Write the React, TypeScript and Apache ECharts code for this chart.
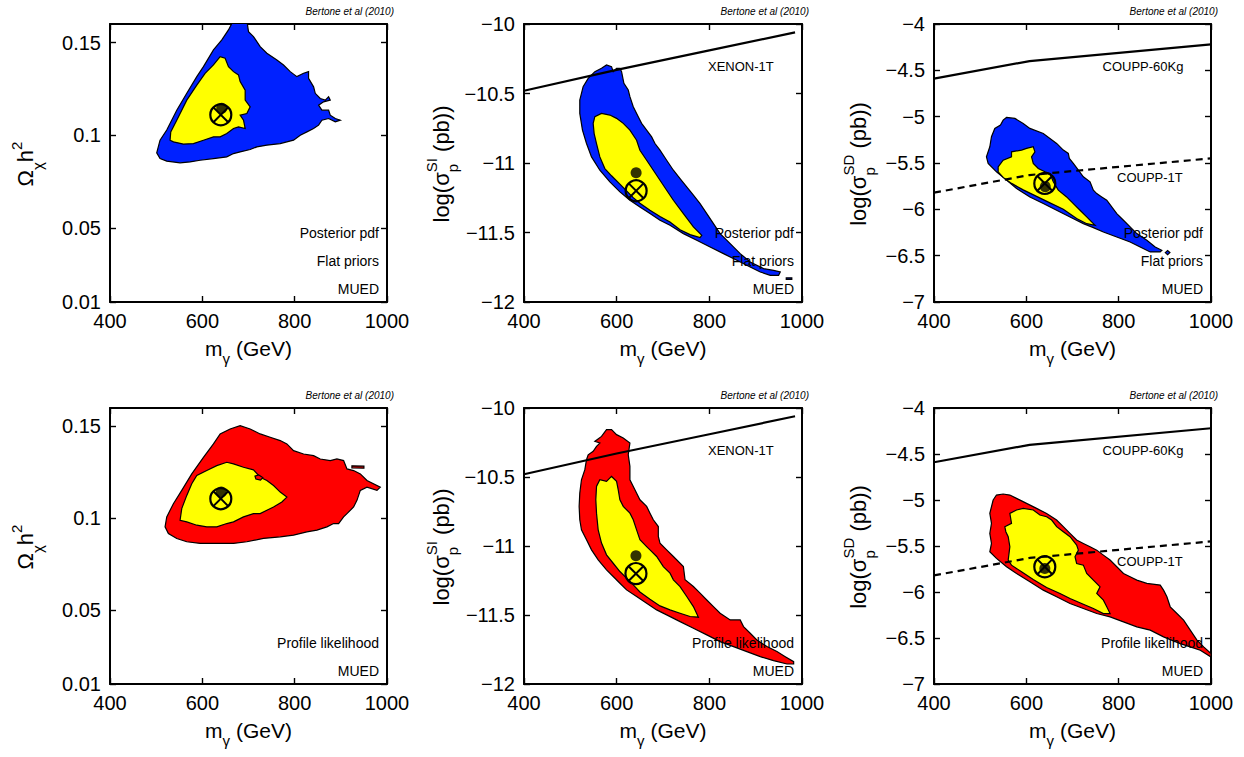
import React, { useEffect, useRef } from "react";
import * as echarts from "echarts";

type Pt = [number, number];

// ---------------- data ----------------
const massRange = [400, 1000];
const relicTicks = [0.01, 0.05, 0.1, 0.15];

// Top-left: relic density, posterior pdf (blue = 95%, yellow = 68%)
const relicPdfOuter: Pt[] = [
  [501.2, 0.0905], [508.4, 0.0973], [522.9, 0.1028], [544.6, 0.1135], [566.3, 0.1226], [588.0, 0.1316],
  [602.4, 0.137], [624.1, 0.146], [642.2, 0.1514], [656.6, 0.1568], [667.5, 0.162], [696.4, 0.162],
  [700.0, 0.1559], [710.8, 0.1532], [725.3, 0.1478], [739.8, 0.1442], [761.5, 0.1406], [775.9, 0.1379],
  [790.4, 0.1343], [804.8, 0.1316], [819.3, 0.1334], [830.1, 0.1343], [830.1, 0.1307], [841.0, 0.1261],
  [844.6, 0.1226], [855.4, 0.1198], [866.3, 0.1189], [873.5, 0.1207], [877.1, 0.1189], [862.7, 0.118],
  [851.8, 0.1162], [859.0, 0.1135], [873.5, 0.1135], [877.1, 0.1108], [888.0, 0.109], [898.8, 0.1081],
  [888.0, 0.1072], [873.5, 0.109], [859.0, 0.1081], [851.8, 0.1054], [841.0, 0.1036], [826.5, 0.1018],
  [812.1, 0.1], [797.6, 0.0973], [783.1, 0.0964], [768.7, 0.0955], [739.8, 0.0946], [718.1, 0.0937],
  [703.6, 0.0923], [681.9, 0.091], [667.5, 0.0901], [653.0, 0.0883], [624.1, 0.0874], [595.2, 0.0865],
  [573.5, 0.0856], [551.8, 0.0851], [522.9, 0.086], [508.4, 0.0874],
];
const relicPdfInner: Pt[] = [
  [530.1, 0.0973], [531.6, 0.1018], [544.6, 0.1081], [566.3, 0.1189], [588.0, 0.127], [606.0, 0.1334],
  [624.1, 0.1379], [638.6, 0.1424], [649.4, 0.1415], [656.6, 0.137], [667.5, 0.1343], [678.3, 0.1325],
  [681.9, 0.1289], [692.8, 0.1243], [692.8, 0.1189], [703.6, 0.1153], [696.4, 0.1117], [681.9, 0.1108],
  [689.2, 0.1081], [692.8, 0.1036], [678.3, 0.1045], [667.5, 0.1036], [653.0, 0.1009], [638.6, 0.0991],
  [624.1, 0.0991], [602.4, 0.0973], [580.7, 0.0955], [559.0, 0.0952], [537.4, 0.0964],
];

// Top-middle: spin-independent cross section, posterior pdf
const siPdfOuter: Pt[] = [
  [567.3, -10.319], [578.1, -10.295], [588.9, -10.307], [592.5, -10.343], [599.8, -10.319], [607.0, -10.319],
  [610.6, -10.343], [615.6, -10.427], [625.0, -10.475], [628.6, -10.523], [635.8, -10.595], [646.6, -10.667],
  [653.8, -10.715], [664.7, -10.764], [675.5, -10.812], [682.7, -10.86], [693.5, -10.908], [707.9, -10.98],
  [722.4, -11.052], [736.8, -11.112], [751.2, -11.172], [765.6, -11.232], [780.0, -11.292], [794.5, -11.364],
  [808.9, -11.436], [823.3, -11.508], [845.0, -11.58], [866.6, -11.652], [888.2, -11.712], [917.1, -11.76],
  [938.7, -11.772], [953.1, -11.784], [949.5, -11.808], [931.5, -11.808], [909.9, -11.784], [888.2, -11.748],
  [859.4, -11.7], [830.5, -11.652], [801.7, -11.604], [772.8, -11.556], [744.0, -11.508], [715.1, -11.448],
  [693.5, -11.412], [671.9, -11.364], [650.2, -11.316], [628.6, -11.268], [607.0, -11.208], [585.3, -11.136],
  [563.7, -11.052], [545.7, -10.956], [534.9, -10.86], [526.2, -10.764], [520.4, -10.643], [520.4, -10.547],
  [527.6, -10.451], [538.5, -10.391], [552.9, -10.343],
];
const siPdfInner: Pt[] = [
  [549.3, -10.715], [552.9, -10.667], [567.3, -10.643], [585.3, -10.655], [599.8, -10.679], [614.2, -10.715],
  [628.6, -10.764], [643.0, -10.836], [650.2, -10.908], [664.7, -10.98], [679.1, -11.052], [693.5, -11.124],
  [707.9, -11.196], [722.4, -11.268], [744.0, -11.364], [765.6, -11.46], [783.7, -11.52], [780.0, -11.537],
  [758.4, -11.515], [736.8, -11.48], [715.1, -11.425], [693.5, -11.385], [671.9, -11.34], [650.2, -11.29],
  [635.8, -11.249], [621.4, -11.2], [607.0, -11.152], [588.9, -11.092], [574.5, -11.04], [563.7, -10.956],
  [556.5, -10.86], [551.4, -10.788],
];
const siPdfIsland: Pt[] = [[966, -11.826], [978, -11.826], [978, -11.837], [966, -11.837]];

// Top-right: spin-dependent cross section, posterior pdf
const sdPdfOuter: Pt[] = [
  [557.1, -5.008], [575.2, -5.019], [593.2, -5.073], [607.7, -5.127], [636.7, -5.181], [665.6, -5.289],
  [680.1, -5.361], [690.9, -5.397], [693.1, -5.451], [701.8, -5.505], [712.7, -5.577], [723.5, -5.649],
  [738.0, -5.703], [745.2, -5.793], [752.5, -5.83], [763.3, -5.866], [774.2, -5.902], [785.0, -5.974],
  [795.9, -6.046], [810.4, -6.118], [824.8, -6.19], [839.3, -6.262], [861.0, -6.334], [879.1, -6.406],
  [893.6, -6.442], [890.0, -6.46], [868.3, -6.46], [846.6, -6.406], [824.8, -6.352], [795.9, -6.298],
  [766.9, -6.244], [745.2, -6.197], [723.5, -6.154], [694.6, -6.082], [665.6, -6.01], [636.7, -5.938],
  [607.7, -5.866], [578.8, -5.775], [557.1, -5.685], [535.3, -5.595], [517.3, -5.505], [513.6, -5.433],
  [520.9, -5.325], [524.5, -5.217], [531.7, -5.127], [544.0, -5.091], [549.8, -5.037],
];
const sdPdfInner: Pt[] = [
  [539.0, -5.541], [549.8, -5.469], [567.9, -5.433], [567.9, -5.379], [589.6, -5.361], [600.5, -5.343],
  [615.0, -5.325], [618.6, -5.379], [611.3, -5.433], [615.0, -5.505], [625.8, -5.559], [640.3, -5.595],
  [651.1, -5.613], [658.4, -5.703], [669.2, -5.793], [687.3, -5.866], [701.8, -5.938], [716.3, -6.01],
  [730.8, -6.082], [745.2, -6.154], [748.9, -6.172], [730.8, -6.155], [709.0, -6.1], [680.1, -6.0],
  [651.1, -5.93], [622.2, -5.86], [593.2, -5.79], [567.9, -5.72], [549.8, -5.655], [539.0, -5.595],
];
const sdPdfIsland: Pt[] = [[901, -6.467], [906, -6.445], [911, -6.467], [906, -6.489]];

// Bottom-left: relic density, profile likelihood (red = 95%, yellow = 68%)
const relicPlOuter: Pt[] = [
  [519.3, 0.0954], [522.9, 0.1008], [537.3, 0.108], [555.4, 0.1152], [577.1, 0.1242], [602.4, 0.1332],
  [624.1, 0.1405], [638.6, 0.1459], [660.2, 0.1486], [681.9, 0.1504], [703.6, 0.1486], [725.3, 0.1459],
  [747.0, 0.1441], [768.7, 0.1423], [783.1, 0.1405], [797.6, 0.1368], [819.3, 0.135], [841.0, 0.1341],
  [855.4, 0.1323], [877.1, 0.1314], [891.6, 0.1323], [906.0, 0.1314], [913.3, 0.1269], [927.7, 0.126],
  [942.2, 0.1242], [956.6, 0.1206], [985.5, 0.117], [978.3, 0.1152], [956.6, 0.117], [942.2, 0.1152],
  [934.9, 0.1098], [927.7, 0.1062], [913.3, 0.1026], [906.0, 0.1008], [895.2, 0.0972], [884.3, 0.0972],
  [869.9, 0.0954], [848.2, 0.0936], [826.5, 0.0927], [797.6, 0.0909], [768.7, 0.09], [732.5, 0.0891],
  [696.4, 0.0873], [667.5, 0.0864], [631.3, 0.0864], [595.2, 0.0864], [566.3, 0.0873], [544.6, 0.0891],
  [526.5, 0.0918],
];
const relicPlInner: Pt[] = [
  [551.8, 0.099], [555.4, 0.1053], [566.3, 0.1125], [577.1, 0.1188], [588.0, 0.1233], [609.6, 0.126],
  [631.3, 0.1287], [653.0, 0.1305], [667.5, 0.1296], [689.2, 0.1278], [710.8, 0.1264], [725.3, 0.1224],
  [739.8, 0.1206], [754.2, 0.1179], [768.7, 0.1143], [783.1, 0.1116], [772.3, 0.1089], [754.2, 0.1062],
  [739.8, 0.1044], [725.3, 0.1026], [710.8, 0.1026], [689.2, 0.1008], [667.5, 0.0981], [653.0, 0.0972],
  [631.3, 0.0954], [609.6, 0.0954], [588.0, 0.0963], [566.3, 0.0981],
];
const relicPlIsland: Pt[] = [[924, 0.1286], [950, 0.1284], [950, 0.1273], [924, 0.1275]];
const relicPlPocket: Pt[] = [[714, 0.123], [722, 0.1236], [731, 0.1222], [726, 0.1208], [716, 0.1214]];

// Bottom-middle: spin-independent, profile likelihood
const siPlOuter: Pt[] = [
  [578.1, -10.157], [588.9, -10.157], [599.8, -10.193], [614.2, -10.218], [628.6, -10.254], [625.0, -10.339],
  [628.6, -10.423], [628.6, -10.52], [639.4, -10.592], [650.2, -10.665], [664.7, -10.713], [671.9, -10.762],
  [679.1, -10.81], [689.9, -10.859], [689.9, -10.931], [693.5, -10.979], [707.9, -11.028], [722.4, -11.076],
  [744.0, -11.149], [747.6, -11.245], [765.6, -11.294], [780.0, -11.342], [794.5, -11.391], [808.9, -11.439],
  [823.3, -11.487], [845.0, -11.536], [866.6, -11.536], [873.8, -11.584], [888.2, -11.632], [902.6, -11.681],
  [924.3, -11.729], [945.9, -11.765], [963.9, -11.802], [982.0, -11.838], [982.0, -11.855], [967.6, -11.855],
  [938.7, -11.831], [909.9, -11.802], [881.0, -11.765], [852.2, -11.729], [823.3, -11.693], [794.5, -11.644],
  [765.6, -11.596], [736.8, -11.548], [707.9, -11.499], [686.3, -11.463], [664.7, -11.415], [643.0, -11.366],
  [621.4, -11.318], [607.0, -11.27], [592.5, -11.221], [578.1, -11.173], [560.1, -11.1], [545.7, -11.028],
  [534.9, -10.955], [524.0, -10.883], [520.4, -10.81], [519.0, -10.713], [520.4, -10.617], [524.0, -10.52],
  [531.3, -10.447], [534.9, -10.375], [538.5, -10.339], [549.3, -10.314], [556.5, -10.278], [563.7, -10.254],
  [552.9, -10.242], [567.3, -10.206],
];
const siPlInner: Pt[] = [
  [556.5, -10.568], [563.7, -10.52], [578.1, -10.532], [588.9, -10.496], [599.8, -10.532], [603.4, -10.593],
  [607.0, -10.665], [614.2, -10.713], [628.6, -10.762], [635.8, -10.81], [643.0, -10.883], [650.2, -10.955],
  [664.7, -11.004], [671.9, -11.028], [686.3, -11.076], [700.7, -11.149], [715.1, -11.197], [722.4, -11.245],
  [736.8, -11.294], [751.2, -11.366], [765.6, -11.439], [776.4, -11.516], [758.4, -11.511], [736.8, -11.487],
  [715.1, -11.463], [693.5, -11.434], [671.9, -11.386], [650.2, -11.333], [635.8, -11.282], [621.4, -11.233],
  [607.0, -11.185], [592.5, -11.125], [578.1, -11.064], [567.3, -10.979], [560.1, -10.883], [556.5, -10.762],
  [555.0, -10.665],
];

// Bottom-right: spin-dependent, profile likelihood
const sdPlOuter: Pt[] = [
  [528.1, -5.0], [535.3, -4.946], [549.8, -4.935], [564.3, -4.946], [578.8, -4.982], [600.5, -5.037],
  [622.2, -5.091], [643.9, -5.146], [665.6, -5.218], [680.1, -5.29], [694.6, -5.363], [709.0, -5.435],
  [723.5, -5.472], [738.0, -5.508], [752.5, -5.545], [766.9, -5.599], [781.4, -5.653], [795.9, -5.726],
  [810.4, -5.798], [824.8, -5.835], [839.3, -5.871], [861.0, -5.907], [890.0, -5.925], [897.2, -5.98],
  [904.5, -6.052], [911.7, -6.161], [926.2, -6.234], [940.7, -6.306], [955.1, -6.415], [969.6, -6.524],
  [984.1, -6.596], [1000, -6.669], [1000, -6.706], [976.8, -6.633], [955.1, -6.597], [933.4, -6.561],
  [897.2, -6.488], [868.3, -6.415], [839.3, -6.379], [810.4, -6.325], [781.4, -6.27], [752.5, -6.234],
  [723.5, -6.18], [694.6, -6.125], [665.6, -6.052], [636.7, -5.98], [607.7, -5.889], [578.8, -5.798],
  [557.1, -5.726], [535.3, -5.635], [520.9, -5.563], [524.5, -5.472], [520.9, -5.363], [524.5, -5.254],
  [520.9, -5.145],
];
const sdPlInner: Pt[] = [
  [553.4, -5.29], [567.9, -5.254], [564.3, -5.145], [578.8, -5.109], [593.2, -5.091], [615.0, -5.109],
  [629.4, -5.163], [643.9, -5.182], [654.8, -5.218], [665.6, -5.29], [680.1, -5.345], [694.6, -5.399],
  [709.0, -5.49], [712.7, -5.545], [705.4, -5.617], [709.0, -5.69], [723.5, -5.708], [730.8, -5.798],
  [745.2, -5.871], [759.7, -5.944], [752.5, -6.016], [766.9, -6.089], [774.2, -6.161], [781.4, -6.234],
  [766.9, -6.234], [745.2, -6.18], [723.5, -6.133], [694.6, -6.071], [672.9, -6.016], [643.9, -5.951],
  [615.0, -5.864], [589.6, -5.781], [567.9, -5.708], [560.7, -5.654], [564.3, -5.508], [560.7, -5.399],
  [555.6, -5.345],
];

// Experimental sensitivity curves
const xenon1T: Pt[] = [[400, -10.48], [600, -10.33], [800, -10.19], [985, -10.06]];
const coupp60kg: Pt[] = [[400, -4.59], [607, -4.4], [1000, -4.22]];
const coupp1T: Pt[] = [[400, -5.82], [607, -5.63], [1000, -5.45]];

// Best fit (circled cross) and posterior mean (dot)
const bestFitPoints: Pt[] = [[640, 0.111], [642, -11.2], [640, -5.72], [640, 0.1107], [641.6, -11.2], [640, -5.726]];
const meanPoints: Pt[] = [[642, 0.1145], [642, -11.07], [641, -5.755], [641, 0.1143], [641.6, -11.07], [640, -5.745]];

// ---------------- styling ----------------
const FONT = '"Liberation Sans", Arial, Helvetica, sans-serif';
const BLUE = "#0021ff";
const RED = "#ff0000";
const YELLOW = "#ffff00";

function measure(text: string, size: number, style = "") {
  const ctx = document.createElement("canvas").getContext("2d")!;
  ctx.font = `${style} ${size}px ${FONT}`;
  return ctx.measureText(text).width;
}

type Part = { t: string; s: number; dy: number; hold?: boolean };

function layoutParts(parts: Part[]) {
  let pen = 0;
  let held = 0;
  const children: any[] = [];
  for (const p of parts) {
    const w = measure(p.t, p.s);
    children.push({
      type: "text",
      x: pen,
      y: p.dy,
      style: {
        text: p.t,
        font: `${p.s}px ${FONT}`,
        fill: "#000",
        align: "left",
        verticalAlign: "middle",
      },
    });
    if (p.hold) held = Math.max(held, w);
    else {
      pen += Math.max(held, w);
      held = 0;
    }
  }
  return { children, width: pen };
}

const relicName: Part[] = [
  { t: "Ω", s: 22, dy: 0 },
  { t: "χ", s: 15, dy: 12 },
  { t: "h", s: 22, dy: 0 },
  { t: "2", s: 15, dy: -9 },
];
const siName: Part[] = [
  { t: "log(σ", s: 22, dy: 0 },
  { t: "SI", s: 15, dy: -10, hold: true },
  { t: "p", s: 15, dy: 11 },
  { t: " (pb))", s: 22, dy: 0 },
];
const sdName: Part[] = [
  { t: "log(σ", s: 22, dy: 0 },
  { t: "SD", s: 15, dy: -10, hold: true },
  { t: "p", s: 15, dy: 11 },
  { t: " (pb))", s: 22, dy: 0 },
];
const massName: Part[] = [
  { t: "m", s: 21, dy: 0 },
  { t: "γ", s: 15, dy: 10 },
  { t: " (GeV)", s: 21, dy: 0 },
];

function yNameGroup(parts: Part[], cx: number, cy: number) {
  const { children, width } = layoutParts(parts);
  return { type: "group", x: cx, y: cy + width / 2, rotation: Math.PI / 2, children, silent: true };
}
function xNameGroup(parts: Part[], cx: number, cy: number) {
  const { children, width } = layoutParts(parts);
  return { type: "group", x: cx - width / 2, y: cy, children, silent: true };
}
function note(text: string, x: number, y: number, align: string, size = 14, italic = false) {
  return {
    type: "text",
    x,
    y,
    silent: true,
    z: 100,
    style: {
      text,
      font: `${italic ? "italic " : ""}${size}px ${FONT}`,
      fill: "#000",
      align,
      verticalAlign: "middle",
    },
  };
}

const fmt = (v: number) => (v < 0 ? "\u2212" + String(Math.abs(v)) : String(v));

type Panel = {
  grid: { left: number; top: number; width: number; height: number };
  kind: "relic" | "si" | "sd";
  regions: { poly: Pt[]; fill: string }[];
  lines: { data: Pt[]; dashed: boolean }[];
  notes: string[];
  detectors: { text: string; dx: number; dy: number }[];
  nameX: number;
};

const panels: Panel[] = [
  {
    grid: { left: 110, top: 24, width: 277, height: 278 },
    kind: "relic",
    regions: [
      { poly: relicPdfOuter, fill: BLUE },
      { poly: relicPdfInner, fill: YELLOW },
    ],
    lines: [],
    notes: ["Posterior pdf", "Flat priors", "MUED"],
    detectors: [],
    nameX: 25,
  },
  {
    grid: { left: 524, top: 24, width: 278, height: 278 },
    kind: "si",
    regions: [
      { poly: siPdfOuter, fill: BLUE },
      { poly: siPdfIsland, fill: BLUE },
      { poly: siPdfInner, fill: YELLOW },
    ],
    lines: [{ data: xenon1T, dashed: false }],
    notes: ["Posterior pdf", "Flat priors", "MUED"],
    detectors: [{ text: "XENON-1T", dx: 184, dy: 42 }],
    nameX: 441,
  },
  {
    grid: { left: 934, top: 24, width: 277, height: 278 },
    kind: "sd",
    regions: [
      { poly: sdPdfOuter, fill: BLUE },
      { poly: sdPdfIsland, fill: BLUE },
      { poly: sdPdfInner, fill: YELLOW },
    ],
    lines: [
      { data: coupp60kg, dashed: false },
      { data: coupp1T, dashed: true },
    ],
    notes: ["Posterior pdf", "Flat priors", "MUED"],
    detectors: [
      { text: "COUPP-60Kg", dx: 168.5, dy: 42 },
      { text: "COUPP-1T", dx: 183, dy: 153 },
    ],
    nameX: 858,
  },
  {
    grid: { left: 110, top: 408, width: 277, height: 276 },
    kind: "relic",
    regions: [
      { poly: relicPlOuter, fill: RED },
      { poly: relicPlIsland, fill: RED },
      { poly: relicPlInner, fill: YELLOW },
      { poly: relicPlPocket, fill: RED },
    ],
    lines: [],
    notes: ["Profile likelihood", "MUED"],
    detectors: [],
    nameX: 25,
  },
  {
    grid: { left: 524, top: 408, width: 278, height: 276 },
    kind: "si",
    regions: [
      { poly: siPlOuter, fill: RED },
      { poly: siPlInner, fill: YELLOW },
    ],
    lines: [{ data: xenon1T, dashed: false }],
    notes: ["Profile likelihood", "MUED"],
    detectors: [{ text: "XENON-1T", dx: 184, dy: 42 }],
    nameX: 441,
  },
  {
    grid: { left: 934, top: 408, width: 277, height: 276 },
    kind: "sd",
    regions: [
      { poly: sdPlOuter, fill: RED },
      { poly: sdPlInner, fill: YELLOW },
    ],
    lines: [
      { data: coupp60kg, dashed: false },
      { data: coupp1T, dashed: true },
    ],
    notes: ["Profile likelihood", "MUED"],
    detectors: [
      { text: "COUPP-60Kg", dx: 168.5, dy: 42 },
      { text: "COUPP-1T", dx: 183, dy: 153 },
    ],
    nameX: 858,
  },
];

function buildOption() {
  const grid: any[] = [];
  const xAxis: any[] = [];
  const yAxis: any[] = [];
  const series: any[] = [];
  const graphics: any[] = [];

  const axisLine = { show: true, onZero: false, lineStyle: { color: "#000", width: 2 } };
  const tickStyle = { color: "#000", width: 1.4 };

  panels.forEach((p, g) => {
    grid.push({ ...p.grid, containLabel: false });
    const yRange =
      p.kind === "relic" ? { min: 0.01, max: 0.16 } : p.kind === "si" ? { min: -12, max: -10, interval: 0.5 } : { min: -7, max: -4, interval: 0.5 };
    const custom = p.kind === "relic" ? relicTicks : undefined;

    for (const pos of ["bottom", "top"]) {
      xAxis.push({
        type: "value",
        gridIndex: g,
        position: pos,
        min: massRange[0],
        max: massRange[1],
        interval: 200,
        axisLine,
        axisTick: { show: true, inside: true, length: 6, lineStyle: tickStyle },
        axisLabel:
          pos === "bottom"
            ? { show: true, color: "#000", fontSize: 20, fontFamily: FONT, margin: 9, formatter: fmt }
            : { show: false },
        splitLine: { show: false },
      });
    }
    for (const pos of ["left", "right"]) {
      yAxis.push({
        type: "value",
        gridIndex: g,
        position: pos,
        ...yRange,
        axisLine,
        axisTick: { show: true, inside: true, length: 6, lineStyle: tickStyle, ...(custom ? { customValues: custom } : {}) },
        axisLabel:
          pos === "left"
            ? { show: true, color: "#000", fontSize: 20, fontFamily: FONT, margin: 9, formatter: fmt, ...(custom ? { customValues: custom } : {}) }
            : { show: false },
        splitLine: { show: false },
      });
    }
    const ax = g * 2;

    p.regions.forEach((r, i) => {
      const poly = r.poly;
      series.push({
        type: "custom",
        coordinateSystem: "cartesian2d",
        xAxisIndex: ax,
        yAxisIndex: ax,
        clip: true,
        silent: true,
        z: 2 + i * 0.01,
        data: [poly[0]],
        renderItem: (_params: any, api: any) => ({
          type: "polygon",
          shape: { points: poly.map((pt) => api.coord(pt)) },
          style: { fill: r.fill, stroke: "#000", lineWidth: 1.2 },
        }),
      });
    });

    p.lines.forEach((l) => {
      series.push({
        type: "line",
        xAxisIndex: ax,
        yAxisIndex: ax,
        data: l.data,
        symbol: "none",
        silent: true,
        z: 4,
        lineStyle: { color: "#000", width: 2.2, type: l.dashed ? [7, 5] : "solid" },
      });
    });

    series.push({
      type: "scatter",
      xAxisIndex: ax,
      yAxisIndex: ax,
      data: [meanPoints[g]],
      symbol: "circle",
      symbolSize: 11,
      silent: true,
      z: 5,
      itemStyle: { color: "#000" },
    });

    series.push({
      type: "custom",
      coordinateSystem: "cartesian2d",
      xAxisIndex: ax,
      yAxisIndex: ax,
      silent: true,
      z: 6,
      data: [bestFitPoints[g]],
      renderItem: (_params: any, api: any) => {
        const c = api.coord([api.value(0), api.value(1)]);
        const r = 10.5;
        const d = r * 0.7071;
        return {
          type: "group",
          children: [
            { type: "circle", shape: { cx: c[0], cy: c[1], r }, style: { fill: "rgba(0,0,0,0)", stroke: "#000", lineWidth: 2.2 } },
            { type: "line", shape: { x1: c[0] - d, y1: c[1] - d, x2: c[0] + d, y2: c[1] + d }, style: { stroke: "#000", lineWidth: 2 } },
            { type: "line", shape: { x1: c[0] - d, y1: c[1] + d, x2: c[0] + d, y2: c[1] - d }, style: { stroke: "#000", lineWidth: 2 } },
          ],
        };
      },
    });

    const { left, top, width, height } = p.grid;
    const right = left + width;
    // notes bottom-right
    const n = p.notes.length;
    p.notes.forEach((t, i) => {
      graphics.push(note(t, right - 8, top + height - 13 - (n - 1 - i) * 28, "right", 14));
    });
    p.detectors.forEach((d) => graphics.push(note(d.text, left + d.dx, top + d.dy, "left", 13)));
    graphics.push(note("Bertone et al (2010)", right + 7, top - 13, "right", 10, true));

    const nameParts = p.kind === "relic" ? relicName : p.kind === "si" ? siName : sdName;
    graphics.push(yNameGroup(nameParts, p.nameX, top + height / 2 + 1));
    graphics.push(xNameGroup(massName, left + width / 2, top + height + 46));
  });

  return {
    animation: false,
    backgroundColor: "#fff",
    textStyle: { fontFamily: FONT },
    grid,
    xAxis,
    yAxis,
    series,
    graphic: { elements: graphics },
  };
}

export default function App() {
  const ref = useRef<HTMLDivElement>(null);
  useEffect(() => {
    const chart = echarts.init(ref.current!, undefined, { renderer: "svg" });
    chart.setOption(buildOption() as any);
    return () => chart.dispose();
  }, []);
  return (
    <div
      ref={ref}
      style={{ position: "absolute", left: 0, top: 0, width: 1244, height: 757, background: "#fff" }}
    />
  );
}
